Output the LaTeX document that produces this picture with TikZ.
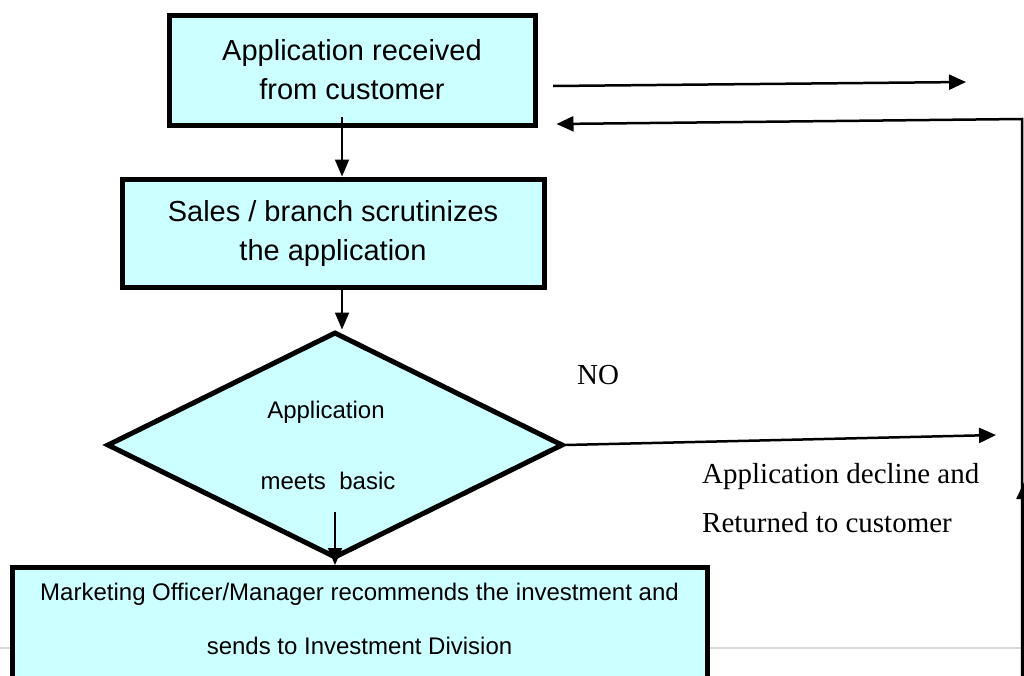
\documentclass[tikz,border=0pt]{standalone}
\usepackage{fontspec}
\setmainfont{Liberation Serif}
\newfontfamily\arialfont{Liberation Sans}
\usetikzlibrary{arrows.meta, shapes.geometric}
\definecolor{boxcyan}{HTML}{CCFFFF}

\begin{document}
\begin{tikzpicture}[x=1pt, y=-1pt,
    stage/.style={rectangle, draw=black, line width=5pt, fill=boxcyan, align=center, inner sep=0pt},
    stage big/.style={stage, font=\arialfont\fontsize{29}{39}\selectfont},
    decision/.style={diamond, aspect=2, draw=black, line width=5pt, fill=boxcyan, align=center, inner sep=0pt, font=\arialfont\fontsize{24}{71}\selectfont},
    flow/.style={-{Triangle[length=17pt, width=14pt]}, line width=1.8pt},
    route/.style={-{Triangle[length=17pt, width=15pt]}, line width=2.5pt},
    note/.style={font=\fontsize{29}{49}\selectfont, inner sep=0pt}
  ]
    \useasboundingbox (0,0) rectangle (1024,675);
    \draw[black!15, line width=1.2pt] (0,648) -- (1024,648);

    \node[stage big, minimum width=366pt, minimum height=110pt] (recv) at (352,70) {Application received\\from customer};
    \node[stage big, minimum width=422pt, minimum height=108pt] (scrut) at (333,233) {Sales / branch scrutinizes\\the application};
    \node[decision, minimum width=456pt, minimum height=226pt] (chk) at (335,445) {Application\hspace*{18pt}\\meets~~basic\hspace*{14pt}};
    \node[stage, font=\arialfont\fontsize{24}{54}\selectfont, anchor=north, minimum width=695pt, inner ysep=16pt, text depth=70pt] (done) at (359.5,565) {Marketing Officer/Manager recommends the investment and\\sends to Investment Division};

    \node[note] (no) at (598,375) {NO};
    \node[note, anchor=west, align=left] (ret) at (702,498.5) {Application decline and\\Returned to customer};

    % side routes
    \coordinate (fwd s) at (553,86);
    \coordinate (fwd e) at (966,82);
    \coordinate (reject) at (996,435);
    \coordinate (back) at (1022,690);
    \coordinate (corner) at (1022,119);
    \coordinate (up s) at (1024,690);
    \coordinate (up e) at (1024,482);

    \draw[flow] ([shift={(-10pt,11pt)}]recv.south) coordinate (r1) -- (r1 |- scrut.north);
    \draw[flow] ([xshift=9pt]scrut.south) coordinate (s1) -- (s1 |- chk.north);
    \draw[flow] ([yshift=49pt]chk.south) -- (chk.south |- done.north);
    \draw[route] (chk.east) -- (reject);
    \draw[route] (fwd s) -- (fwd e);
    \draw[route] (back) -- (corner) -- ([shift={(19pt,-54pt)}]recv.east);
    \draw[route] (up s) -- (up e);
  \end{tikzpicture}
\end{document}
